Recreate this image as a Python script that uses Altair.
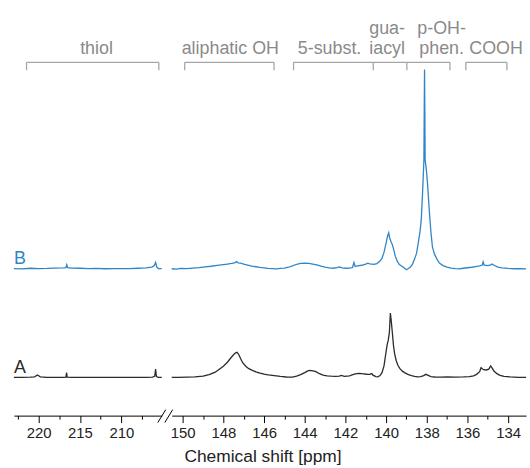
import altair as alt
import pandas as pd

# ---------------- data ----------------
# Spectrum B (blue) – right window (ppm, intensity above its own baseline)
b_right_ppm = [150.54, 150.3, 150.1, 149.8, 149.5, 149.2, 148.9, 148.6, 148.3, 148.0, 147.8, 147.6, 147.45,
               147.35, 147.28, 147.15, 147.0, 146.8, 146.6, 146.4, 146.2, 146.0, 145.8, 145.6, 145.4, 145.2,
               145.0, 144.8, 144.6, 144.4, 144.2, 144.0, 143.8, 143.6, 143.4, 143.2, 143.0, 142.8, 142.6,
               142.4, 142.3, 142.15, 142.0, 141.8, 141.65, 141.58, 141.52, 141.4, 141.2, 141.0, 140.9, 140.8,
               140.6, 140.45, 140.3, 140.2, 140.1, 140.0, 139.93, 139.87, 139.82, 139.75, 139.7, 139.63,
               139.55, 139.45, 139.35, 139.2, 139.1, 139.0, 138.9, 138.8, 138.7, 138.6, 138.5, 138.42,
               138.33, 138.27, 138.2, 138.14, 138.125, 138.11, 138.095, 138.08, 138.02, 137.96, 137.88,
               137.8, 137.72, 137.62, 137.5, 137.38, 137.2, 137.0, 136.8, 136.6, 136.4, 136.2, 136.0, 135.8,
               135.6, 135.4, 135.27, 135.23, 135.18, 135.0, 134.85, 134.78, 134.7, 134.5, 134.3, 134.0,
               133.7, 133.4, 133.12]
b_right_int = [0.3, 0.0, 0.6, 0.4, 1.0, 1.5, 2.2, 2.8, 3.6, 4.4, 5.0, 5.6, 6.2,
               7.5, 6.3, 6.0, 5.0, 4.0, 3.0, 2.3, 1.6, 1.2, 0.6, 0.5, 0.2, 0.6,
               0.9, 1.8, 3.2, 4.8, 5.8, 6.0, 5.6, 5.0, 4.2, 3.0, 2.0, 1.2, 0.8,
               1.5, 2.2, 1.2, 0.8, 1.0, 1.5, 6.5, 2.5, 3.2, 3.8, 5.0, 6.0, 5.3,
               4.8, 5.5, 8.0, 11.0, 17.0, 26.0, 33.0, 36.5, 31.0, 27.0, 25.0, 20.0,
               13.0, 8.0, 4.5, 2.5, 1.0, -0.7, 0.5, 2.0, 5.0, 10.0, 16.0, 26.0,
               38.0, 50.0, 80.0, 110.0, 160.0, 201.0, 160.0, 110.0, 100.0, 85.0, 60.0,
               38.0, 22.0, 15.0, 10.0, 6.0, 3.5, 2.0, 1.0, 0.5, 0.2, 0.8, 1.3, 1.8,
               2.5, 3.2, 4.0, 7.3, 4.0, 3.5, 4.2, 5.0, 3.8, 2.0, 1.2, 0.6,
               0.3, 0.5, 0.2]

# Spectrum A (black) – right window
a_right_ppm = [150.54, 150.2, 149.8, 149.4, 149.0, 148.7, 148.4, 148.2, 148.0, 147.8, 147.65, 147.5, 147.4,
               147.33, 147.25, 147.15, 147.05, 146.9, 146.75, 146.6, 146.4, 146.2, 146.0, 145.8, 145.5,
               145.2, 144.9, 144.6, 144.4, 144.2, 144.0, 143.85, 143.75, 143.6, 143.45, 143.3, 143.1,
               142.9, 142.7, 142.5, 142.3, 142.2, 142.05, 141.8, 141.6, 141.45, 141.3, 141.1, 140.95,
               140.8, 140.7, 140.65, 140.5, 140.4, 140.3, 140.2, 140.1, 140.03, 139.95, 139.9, 139.84,
               139.79, 139.75, 139.7, 139.64, 139.58, 139.5, 139.42, 139.32, 139.2, 139.05, 138.9, 138.75,
               138.6, 138.45, 138.3, 138.15, 138.05, 137.95, 137.8, 137.6, 137.3, 137.0, 136.6, 136.2,
               135.9, 135.7, 135.55, 135.4, 135.33, 135.27, 135.2, 135.07, 134.95, 134.86, 134.8, 134.7,
               134.55, 134.4, 134.2, 133.9, 133.5, 133.12]
a_right_int = [0.2, 0.3, 0.5, 0.8, 1.5, 3.0, 5.5, 8.5, 11.5, 15.5, 19.5, 23.0, 25.0,
               25.5, 23.5, 19.0, 15.0, 11.5, 9.0, 7.5, 5.8, 4.5, 3.5, 2.8, 2.0,
               1.2, 0.6, 0.5, 1.5, 3.0, 5.0, 6.8, 7.3, 6.8, 6.0, 4.2, 2.6,
               1.7, 1.4, 1.2, 1.5, 2.3, 1.3, 1.8, 3.2, 4.0, 4.3, 3.8, 3.4,
               3.2, 4.0, 2.5, 1.0, 0.8, 2.0, 5.0, 12.0, 22.0, 33.0, 37.0, 45.0,
               65.0, 58.0, 47.0, 33.0, 24.0, 17.0, 12.5, 9.0, 6.5, 4.5, 3.0, 2.0,
               1.2, 0.8, 1.0, 2.0, 3.3, 2.5, 1.0, 0.6, 0.5, 0.6, 0.5, 0.7,
               1.0, 1.8, 3.3, 6.0, 10.0, 9.0, 8.0, 7.7, 8.5, 11.8, 10.0, 6.7,
               4.0, 2.3, 1.2, 0.7, 0.3, 0.2]

# left window (thiol region)
b_left_ppm = [223.0, 222.0, 221.0, 220.0, 219.0, 218.0, 217.0, 216.7, 216.6, 216.5, 216.0, 215.0, 214.0,
              213.0, 212.0, 211.0, 210.0, 209.0, 208.0, 207.0, 206.3, 206.0, 205.85, 205.7, 205.5, 205.1]
b_left_int = [0.5, 0.2, 0.8, 0.5, 0.6, 1.0, 1.2, 1.5, 4.3, 1.5, 1.0, 0.8, 0.4,
              0.6, 0.3, 0.5, 0.4, 0.5, 0.8, 1.2, 2.0, 3.5, 6.7, 2.0, 0.5, 0.5]
a_left_ppm = [223.0, 222.0, 221.0, 220.5, 220.15, 219.8, 219.0, 218.0, 217.0, 216.7, 216.62, 216.55, 216.0,
              215.0, 214.0, 213.0, 212.0, 211.0, 210.0, 209.0, 208.0, 207.0, 206.2, 205.95, 205.85,
              205.75, 205.5, 205.1]
a_left_int = [0.2, 0.3, 0.4, 0.8, 2.7, 0.8, 0.3, 0.2, 0.3, 0.5, 5.0, 0.5, 0.3,
              0.2, 0.3, 0.2, 0.3, 0.2, 0.3, 0.2, 0.3, 0.3, 0.5, 1.5, 8.7,
              1.0, 0.3, 0.2]

series_names = ["A", "B"]
series_colors = ["#2b2b2b", "#2e86c8"]

# region annotations (ppm ranges, label anchor, label lines)
left_regions = ["thiol"]
left_upper = [""]
left_start = [221.47]
left_end = [205.46]
left_label_ppm = [213.0]

right_regions = ["aliphatic OH", "5-subst.", "iacyl", "phen.", "COOH"]
right_upper = ["", "", "gua-", "p-OH-", ""]
right_start = [149.9, 144.55, 140.63, 138.98, 136.08]
right_end = [145.51, 140.63, 138.98, 136.86, 134.06]
right_label_ppm = [147.66, 142.78, 139.95, 137.27, 134.59]

left_ticks = [222.5, 220, 217.5, 215, 212.5, 210, 207.5]
right_ticks = list(range(134, 151))

FONT = "Liberation Sans"
OFFSET_EXPR = "datum.h + (datum.series === 'B' ? 147.7 : 38.3)"


def spec_df(ppm_a, int_a, ppm_b, int_b):
    rows = [{"ppm": p, "h": v, "series": "A"} for p, v in zip(ppm_a, int_a)]
    rows += [{"ppm": p, "h": v, "series": "B"} for p, v in zip(ppm_b, int_b)]
    return pd.DataFrame(rows)


left_df = spec_df(a_left_ppm, a_left_int, b_left_ppm, b_left_int)
right_df = spec_df(a_right_ppm, a_right_int, b_right_ppm, b_right_int)

yscale = alt.Scale(domain=[0, 416], nice=False, zero=False)
color_scale = alt.Scale(domain=series_names, range=series_colors)


def xenc(field, domain, ticks, major_test):
    return alt.X(
        f"{field}:Q",
        scale=alt.Scale(domain=domain, reverse=True, nice=False, zero=False),
        axis=alt.Axis(
            values=ticks, title=None, grid=False,
            labelExpr=f"{major_test} ? datum.label : ''",
            tickSize={"condition": {"test": major_test, "value": 7}, "value": 3.5},
            labelFlush=False, labelOverlap=False,
        ),
    )


def panel(df, domain, ticks, major_test, regions, upper, starts, ends, label_ppm, width, extra=None):
    X = lambda f: xenc(f, domain, ticks, major_test)
    lines = alt.Chart(df).transform_calculate(y=OFFSET_EXPR).mark_line(
        strokeWidth=1.3, interpolate="linear"
    ).encode(
        x=X("ppm"),
        y=alt.Y("y:Q", scale=yscale, axis=None),
        color=alt.Color("series:N", scale=color_scale, legend=None),
        detail="series:N",
    )
    reg = pd.DataFrame({"region": regions, "upper": upper, "start": starts, "end": ends, "lab": label_ppm})
    edges = sorted(set(starts) | set(ends))
    edge_df = pd.DataFrame({"ppm": edges})
    hbar = alt.Chart(reg).mark_rule(color="#a6a6a6", strokeWidth=1.3).encode(
        x=X("start"), x2="end:Q", y=alt.value(60)
    )
    vbar = alt.Chart(edge_df).mark_rule(color="#a6a6a6", strokeWidth=1.3).encode(
        x=X("ppm"), y=alt.value(60), y2=alt.value(68)
    )
    txt_style = dict(font=FONT, fontSize=18, color="#8a8a8a", baseline="alphabetic", align="center")
    txt = alt.Chart(reg).mark_text(**txt_style).encode(x=X("lab"), y=alt.value(52), text="region:N")
    txt_up = alt.Chart(reg).mark_text(**txt_style).encode(x=X("lab"), y=alt.value(31), text="upper:N")
    layers = [lines, hbar, vbar, txt, txt_up]
    if extra:
        layers += extra
    return alt.layer(*layers).properties(width=width, height=416)


letters_df = pd.DataFrame({"series": series_names, "h": [5, 5]})
letters = alt.Chart(letters_df).transform_calculate(y=OFFSET_EXPR).mark_text(
    font=FONT, fontSize=18, align="left", baseline="alphabetic"
).encode(
    x=alt.value(0),
    y=alt.Y("y:Q", scale=yscale, axis=None),
    text="series:N",
    color=alt.Color("series:N", scale=color_scale, legend=None),
)

slash1 = alt.Chart(alt.Data(values=[{}])).mark_rule(color="black", strokeWidth=1).encode(
    x=alt.value(-14), x2=alt.value(-6), y=alt.value(423), y2=alt.value(410)
)
slash2 = alt.Chart(alt.Data(values=[{}])).mark_rule(color="black", strokeWidth=1).encode(
    x=alt.value(-7), x2=alt.value(1), y=alt.value(423), y2=alt.value(410)
)

left = panel(left_df, [205.1, 223.0], left_ticks, "datum.value % 5 === 0",
             left_regions, left_upper, left_start, left_end, left_label_ppm, 149, extra=[letters])
right = panel(right_df, [133.12, 150.54], right_ticks, "datum.value % 2 === 0",
              right_regions, right_upper, right_start, right_end, right_label_ppm, 357,
              extra=[slash1, slash2])

chart = alt.hconcat(left, right, spacing=10, bounds="flush").properties(
    padding={"left": 10, "top": 0, "right": 0, "bottom": 0},
    title=alt.TitleParams(
        text="Chemical shift [ppm]", orient="bottom", anchor="middle", fontSize=17.5,
        font=FONT, fontWeight="normal", color="#222222", dx=-7, offset=7
    ),
).configure_view(stroke="transparent").configure_axis(
    domainColor="black", tickColor="black", labelColor="#222222", labelFont=FONT,
    labelFontSize=15, domainWidth=1, tickWidth=1, labelPadding=3
)

chart.save("out.html", embed_options={"renderer": "svg", "actions": False})
